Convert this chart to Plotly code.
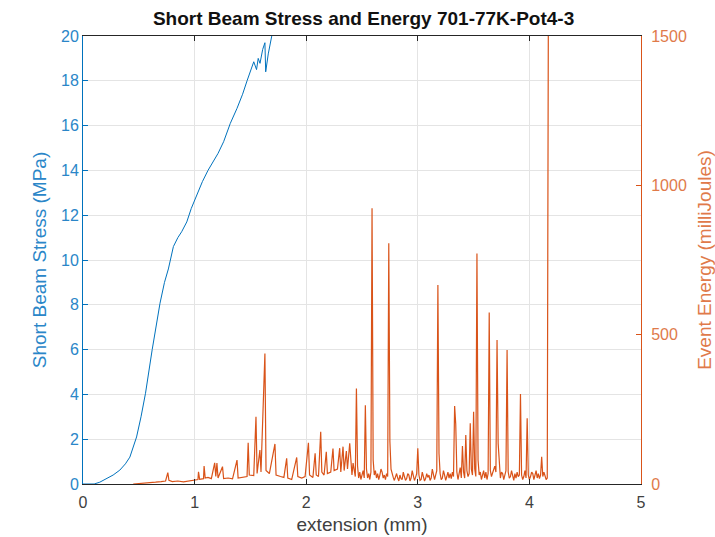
import plotly.graph_objects as go

# Stress curve (left axis)
stress_x = [0.0, 0.10, 0.15, 0.20, 0.27, 0.33, 0.38, 0.42, 0.48, 0.52, 0.56, 0.62, 0.69, 0.73, 0.765,
            0.81, 0.85, 0.884, 0.93, 0.97, 1.02, 1.07, 1.12, 1.17, 1.21, 1.26, 1.32, 1.38, 1.43, 1.47,
            1.50, 1.53, 1.555, 1.57, 1.586, 1.61, 1.63, 1.637, 1.66, 1.69, 1.75]
stress_y = [0.0, 0.0, 0.08, 0.2, 0.4, 0.62, 0.9, 1.2, 2.1, 3.0, 4.05, 6.0, 8.07, 9.0, 9.6,
            10.6, 11.0, 11.26, 11.7, 12.3, 12.9, 13.5, 14.0, 14.4, 14.76, 15.28, 16.1, 16.77, 17.4, 18.0,
            18.4, 18.85, 18.5, 19.0, 18.78, 19.4, 19.7, 18.4, 19.2, 19.9, 21.5]

# Event energy (right axis), early part
energy_x_early = [0.45, 0.50, 0.55, 0.60, 0.65, 0.70, 0.74, 0.76, 0.77, 0.80, 0.85, 0.90, 0.95, 1.00,
                  1.03, 1.035, 1.045, 1.08, 1.085, 1.095, 1.12, 1.15, 1.18, 1.19, 1.20, 1.21, 1.25, 1.26,
                  1.30, 1.34, 1.38, 1.39, 1.43, 1.47, 1.48, 1.49, 1.53, 1.55, 1.56, 1.585, 1.595, 1.63,
                  1.64, 1.67, 1.72, 1.73, 1.77, 1.80, 1.825, 1.835, 1.87, 1.90, 1.915, 1.925, 1.96, 1.99,
                  2.02, 2.03, 2.06, 2.08, 2.09, 2.11, 2.13, 2.14, 2.16, 2.18, 2.19, 2.22, 2.24, 2.25,
                  2.28, 2.30, 2.31, 2.33, 2.34, 2.36, 2.37, 2.39]
energy_y_early = [0, 1, 2, 4, 6, 8, 10, 38, 12, 8, 10, 7, 11, 13,
                  15, 41, 16, 18, 60, 20, 22, 18, 71, 25, 70, 20, 58, 18,
                  20, 17, 80, 20, 22, 25, 138, 30, 28, 225, 35, 114, 40, 437,
                  45, 35, 134, 30, 25, 22, 86, 20, 15, 60, 89, 25, 20, 25,
                  138, 30, 22, 103, 30, 25, 175, 40, 30, 108, 35, 40, 119, 45,
                  50, 120, 40, 125, 45, 110, 50, 136]

# Event energy, dense late part
energy_x_late = [2.40, 2.41, 2.42, 2.43, 2.44, 2.45, 2.46, 2.47, 2.48, 2.49,
                 2.50, 2.51, 2.52, 2.53, 2.54, 2.55, 2.56, 2.57, 2.58, 2.59,
                 2.60, 2.61, 2.62, 2.63, 2.64, 2.65, 2.66, 2.67, 2.68, 2.69,
                 2.70, 2.71, 2.72, 2.73, 2.74, 2.75, 2.76, 2.77, 2.78, 2.79,
                 2.80, 2.81, 2.82, 2.83, 2.84, 2.85, 2.86, 2.87, 2.88, 2.89,
                 2.90, 2.91, 2.92, 2.93, 2.94, 2.95, 2.96, 2.97, 2.98, 2.99,
                 3.00, 3.01, 3.02, 3.03, 3.04, 3.05, 3.06, 3.07, 3.08, 3.09,
                 3.10, 3.11, 3.12, 3.13, 3.14, 3.15, 3.16, 3.17, 3.18, 3.19,
                 3.20, 3.21, 3.22, 3.23, 3.24, 3.25, 3.26, 3.27, 3.28, 3.29,
                 3.30, 3.31, 3.32, 3.33, 3.34, 3.35, 3.36, 3.37, 3.38, 3.39,
                 3.40, 3.41, 3.42, 3.43, 3.44, 3.45, 3.46, 3.47, 3.48, 3.49,
                 3.50, 3.51, 3.52, 3.53, 3.54, 3.55, 3.56, 3.57, 3.58, 3.59,
                 3.60, 3.61, 3.62, 3.63, 3.64, 3.65, 3.66, 3.67, 3.68, 3.69,
                 3.70, 3.71, 3.72, 3.73, 3.74, 3.75, 3.76, 3.77, 3.78, 3.79,
                 3.80, 3.81, 3.82, 3.83, 3.84, 3.85, 3.86, 3.87, 3.88, 3.89,
                 3.90, 3.91, 3.92, 3.93, 3.94, 3.95, 3.96, 3.97, 3.98, 3.99,
                 4.00, 4.01, 4.02, 4.03, 4.04, 4.05, 4.06, 4.07, 4.08, 4.09,
                 4.10, 4.11, 4.12, 4.13, 4.14, 4.15, 4.16, 4.17]
energy_y_late = [60, 30, 70, 45, 25, 320, 60, 20, 40, 15,
                 30, 45, 20, 264, 50, 20, 35, 15, 40, 923,
                 80, 30, 45, 20, 35, 15, 30, 50, 40, 20,
                 30, 15, 35, 25, 806, 142, 50, 30, 22, 12,
                 25, 35, 20, 10, 30, 18, 15, 40, 25, 12,
                 18, 35, 30, 10, 20, 45, 28, 12, 22, 35,
                 120, 30, 12, 15, 40, 25, 10, 18, 35, 22,
                 30, 12, 20, 50, 25, 15, 30, 45, 666, 103,
                 35, 15, 20, 45, 30, 12, 25, 40, 20, 35,
                 18, 40, 25, 261, 200, 40, 15, 30, 55, 20,
                 127, 40, 20, 164, 45, 25, 35, 203, 50, 30,
                 242, 50, 25, 772, 80, 30, 40, 15, 30, 45,
                 20, 40, 15, 35, 574, 45, 25, 35, 50, 60,
                 40, 482, 136, 50, 20, 40, 35, 15, 30, 45,
                 449, 40, 20, 25, 45, 30, 12, 35, 20, 40,
                 25, 30, 301, 30, 15, 25, 45, 20, 220, 30,
                 15, 25, 40, 35, 15, 30, 45, 20, 35, 18,
                 30, 91, 25, 40, 30, 15, 20, 1600]

energy_x = energy_x_early + energy_x_late
energy_y = energy_y_early + energy_y_late

blue = "#0072BD"
orange = "#D95319"
blue_txt = "#2A86C8"
orange_txt = "#E07A4A"
grey_txt = "#404040"
font = "Liberation Sans, Arial, sans-serif"

fig = go.Figure()
fig.add_trace(go.Scatter(x=stress_x, y=stress_y, mode="lines",
                         line=dict(color=blue, width=1), yaxis="y", showlegend=False))
fig.add_trace(go.Scatter(x=energy_x, y=energy_y, mode="lines",
                         line=dict(color=orange, width=1.2), yaxis="y2", showlegend=False))

fig.update_layout(
    width=715, height=537,
    margin=dict(l=83, r=74, t=36, b=53, autoexpand=False),
    paper_bgcolor="white", plot_bgcolor="white",
    font=dict(family=font, size=16, color=grey_txt),
    title=dict(text="<b>Short Beam Stress and Energy 701-77K-Pot4-3</b>",
               x=0.5085, xanchor="center", y=0.966, yanchor="middle",
               font=dict(size=19, color="#111111", family=font)),
    xaxis=dict(range=[0, 5], tickvals=[0, 1, 2, 3, 4, 5], ticks="inside", ticklen=5,
               tickcolor="#262626", showline=True, linecolor="#262626", linewidth=1,
               mirror="ticks", showgrid=True, gridcolor="#E4E4E4", zeroline=False,
               automargin=False,
               tickfont=dict(size=16, color=grey_txt), ticklabelstandoff=4,
               title=dict(text="extension (mm)", font=dict(size=19, color=grey_txt), standoff=7)),
    yaxis=dict(range=[0, 20], tickvals=list(range(0, 21, 2)), ticks="inside", ticklen=5,
               tickcolor=blue, showline=True, linecolor=blue, linewidth=1,
               showgrid=True, gridcolor="#E4E4E4", zeroline=False,
               automargin=False,
               tickfont=dict(size=16, color=blue_txt),
               title=dict(text="Short Beam Stress (MPa)", font=dict(size=19, color=blue_txt), standoff=9)),
    yaxis2=dict(range=[0, 1500], tickvals=[0, 500, 1000, 1500], ticks="inside", ticklen=5,
                tickcolor=orange, showline=True, linecolor=orange, linewidth=1,
                overlaying="y", side="right", showgrid=False, zeroline=False,
                automargin=False,
                tickfont=dict(size=16, color=orange_txt), ticklabelstandoff=6,
                title=dict(text="Event Energy (milliJoules)", font=dict(size=19, color=orange_txt), standoff=14)),
)

fig.write_html("out.html")
